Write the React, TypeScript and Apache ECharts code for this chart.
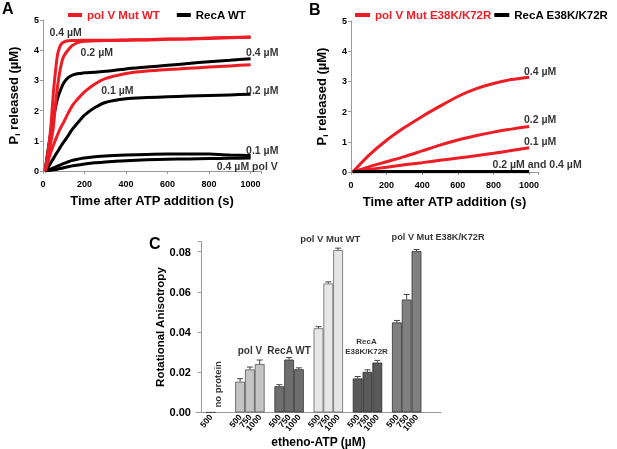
import React, { useEffect, useRef } from 'react';
import * as echarts from 'echarts';

const FONT = '"Liberation Sans", Arial, Helvetica, sans-serif';
const RED = '#ee1c24';
const AXIS_GRAY = '#9a9a9a';

// ---------- Panel A (time in s, Pi released in µM) ----------
const timeA = [10, 20, 30, 40, 50, 60, 70, 80, 90, 100, 120, 140, 160, 180, 200, 250, 300, 400, 500, 600, 700, 800, 900, 1000];
const aPolVMut04 = [0, 0.45, 0.95, 1.65, 2.6, 3.3, 3.85, 4.1, 4.22, 4.27, 4.31, 4.32, 4.32, 4.33, 4.33, 4.33, 4.33, 4.34, 4.35, 4.37, 4.38, 4.4, 4.42, 4.44];
const aPolVMut02 = [0, 0.3, 0.65, 1.05, 1.45, 2.2, 2.8, 3.25, 3.6, 3.8, 4.0, 4.15, 4.23, 4.28, 4.3, 4.31, 4.32, 4.33, 4.34, 4.36, 4.37, 4.39, 4.41, 4.43];
const aPolVMut01 = [0, 0.2, 0.45, 0.67, 0.85, 1.03, 1.2, 1.36, 1.5, 1.62, 1.9, 2.15, 2.33, 2.48, 2.62, 2.88, 3.06, 3.23, 3.31, 3.36, 3.4, 3.44, 3.48, 3.52];
const aRecA04 = [0, 0.5, 0.95, 1.35, 1.75, 2.1, 2.4, 2.6, 2.78, 2.92, 3.08, 3.17, 3.21, 3.23, 3.25, 3.27, 3.3, 3.38, 3.44, 3.5, 3.56, 3.62, 3.67, 3.72];
const aRecA02 = [0, 0.08, 0.18, 0.3, 0.41, 0.53, 0.64, 0.75, 0.86, 0.96, 1.16, 1.37, 1.54, 1.7, 1.85, 2.1, 2.27, 2.39, 2.43, 2.46, 2.48, 2.5, 2.52, 2.54];
const aRecA01 = [0, 0.02, 0.04, 0.07, 0.1, 0.13, 0.16, 0.19, 0.22, 0.25, 0.3, 0.35, 0.38, 0.41, 0.43, 0.47, 0.5, 0.53, 0.55, 0.56, 0.56, 0.56, 0.53, 0.51];
const aPolV04 = [0, 0.01, 0.02, 0.03, 0.04, 0.05, 0.06, 0.08, 0.09, 0.11, 0.14, 0.17, 0.19, 0.21, 0.23, 0.27, 0.3, 0.34, 0.37, 0.39, 0.4, 0.41, 0.42, 0.43];
const aLabels: [number, number, string][] = [
  [109, 4.6, '0.4 µM'],
  [259, 3.94, '0.2 µM'],
  [1056, 3.94, '0.4 µM'],
  [358, 2.68, '0.1 µM'],
  [1056, 2.68, '0.2 µM'],
  [1056, 0.7, '0.1 µM'],
  [984, 0.17, '0.4 µM pol V'],
];

// ---------- Panel B ----------
const timeB = [10, 100, 200, 300, 400, 500, 600, 700, 800, 900, 1000];
const bPolVMutE04 = [0, 0.55, 1.05, 1.47, 1.84, 2.18, 2.5, 2.75, 2.93, 3.06, 3.14];
const bPolVMutE02 = [0, 0.17, 0.34, 0.51, 0.7, 0.89, 1.06, 1.2, 1.32, 1.42, 1.51];
const bPolVMutE01 = [0, 0.08, 0.16, 0.24, 0.31, 0.39, 0.46, 0.54, 0.62, 0.71, 0.8];
const bRecAE02 = [0.01, 0.01, 0.01, 0.01, 0.01, 0.01, 0.01, 0.01, 0.01, 0.01, 0.01];
const bRecAE04 = [0.02, 0.02, 0.02, 0.02, 0.02, 0.02, 0.02, 0.02, 0.02, 0.02, 0.02];
const bLabels: [number, number, string][] = [
  [1062, 3.35, '0.4 µM'],
  [1062, 1.74, '0.2 µM'],
  [1062, 1.04, '0.1 µM'],
  [1045, 0.26, '0.2 µM and 0.4 µM'],
];

// ---------- Panel C (rotational anisotropy) ----------
const cConc = ['500', '750', '1000'];
const cNoProtein = [0];
const cPolV = [0.0153, 0.0214, 0.0241];
const cPolVErr = [0.0015, 0.0012, 0.002];
const cRecAWT = [0.013, 0.0263, 0.0215];
const cRecAWTErr = [0.0008, 0.001, 0.0007];
const cPolVMutWT = [0.0419, 0.0642, 0.0808];
const cPolVMutWTErr = [0.0008, 0.0008, 0.001];
const cRecAE = [0.0169, 0.0202, 0.0248];
const cRecAEErr = [0.001, 0.001, 0.0011];
const cPolVMutE = [0.0448, 0.0562, 0.0803];
const cPolVMutEErr = [0.001, 0.0025, 0.0008];
const cLabels: [number, number, string, number, number][] = [
  // slot position, value, text, font size, rotation
  [1.7, 0.014, 'no protein', 9.5, 90],
  [5, 0.0308, 'pol V', 10, 0],
  [9, 0.0308, 'RecA WT', 10, 0],
  [16.9, 0.0326, 'RecA\nE38K/K72R', 8, 0],
  [13.2, 0.0868, 'pol V Mut WT', 9.5, 0],
  [24.2, 0.0873, 'pol V Mut E38K/K72R', 9.2, 0],
];

type Group = { key: string; start: number; values: number[]; errs: number[]; color: string; border: string };
const SLOTS = 25;
const cGroups: Group[] = [
  { key: 'np', start: 1, values: cNoProtein, errs: [0], color: '#cccccc', border: '#444' },
  { key: 'polV', start: 4, values: cPolV, errs: cPolVErr, color: '#c4c4c4', border: '#555' },
  { key: 'recaWT', start: 8, values: cRecAWT, errs: cRecAWTErr, color: '#6e6e6e', border: '#333' },
  { key: 'mutWT', start: 12, values: cPolVMutWT, errs: cPolVMutWTErr, color: '#e6e6e6', border: '#666' },
  { key: 'recaE', start: 16, values: cRecAE, errs: cRecAEErr, color: '#5a5a5a', border: '#2a2a2a' },
  { key: 'mutE', start: 20, values: cPolVMutE, errs: cPolVMutEErr, color: '#808080', border: '#333' },
];

function buildC() {
  const cats: string[] = [];
  const bars: any[] = [];
  const errs: number[][] = [];
  for (let i = 0; i < SLOTS; i++) {
    cats.push('gap' + i);
    bars.push('-');
  }
  cGroups.forEach((g) => {
    g.values.forEach((v, j) => {
      const idx = g.start + j;
      cats[idx] = g.key + '|' + cConc[j];
      bars[idx] = { value: v, itemStyle: { color: g.color, borderColor: g.border } };
      if (g.errs[j] > 0) errs.push([idx, v, g.errs[j]]);
    });
  });
  return { cats, bars, errs };
}

const pairs = (t: number[], v: number[]) => t.map((x, i) => [x, v[i]]);

export default function App() {
  const ref = useRef<HTMLDivElement>(null);
  useEffect(() => {
    if (!ref.current) return;
    const chart = echarts.init(ref.current, undefined, { renderer: 'svg' });
    const { cats, bars, errs } = buildC();

    const tickLabel = { fontSize: 9, fontWeight: 'bold' as const, color: '#000', fontFamily: FONT };
    const axisLine = { show: true, lineStyle: { color: AXIS_GRAY, width: 1 } };
    const axisTick = { show: true, length: 3, lineStyle: { color: AXIS_GRAY } };
    const nameStyle = {
      fontSize: 13,
      fontWeight: 'bold' as const,
      color: '#000',
      fontFamily: FONT,
      rich: { sub: { fontSize: 8, fontWeight: 'bold' as const, fontFamily: FONT, color: '#000', verticalAlign: 'bottom' as const, lineHeight: 16 } },
    };
    const timeAxis = (gridIndex: number) => ({
      type: 'value',
      gridIndex,
      min: 0,
      max: 1050,
      interval: 200,
      axisLine,
      axisTick,
      splitLine: { show: false },
      axisLabel: { ...tickLabel, margin: 8, formatter: (v: number) => (v % 200 === 0 ? String(v) : '') },
      name: 'Time after ATP addition (s)',
      nameLocation: 'middle',
      nameGap: 23,
      nameTextStyle: nameStyle,
    });
    const piAxis = (gridIndex: number) => ({
      type: 'value',
      gridIndex,
      min: 0,
      max: 5,
      interval: 1,
      axisLine,
      axisTick,
      splitLine: { show: false },
      axisLabel: { ...tickLabel, margin: 4 },
      name: 'P{sub|i} released (µM)',
      nameLocation: 'middle',
      nameGap: 22,
      nameTextStyle: nameStyle,
    });

    const line = (name: string, color: string, t: number[], v: number[], axis: number) => ({
      type: 'line',
      name,
      xAxisIndex: axis,
      yAxisIndex: axis,
      data: pairs(t, v),
      showSymbol: false,
      smooth: 0.25,
      lineStyle: { color, width: 3 },
      itemStyle: { color },
      silent: true,
    });

    const labelSeries = (axisX: number, axisY: number, data: any[], fontSize: number) => ({
      type: 'scatter',
      xAxisIndex: axisX,
      yAxisIndex: axisY,
      symbolSize: 1,
      itemStyle: { color: 'rgba(0,0,0,0)' },
      clip: false,
      silent: true,
      data: data.map((d) => ({
        value: [d[0], d[1]],
        label: {
          show: true,
          position: 'inside',
          formatter: d[2],
          fontSize: d[3] ?? fontSize,
          rotate: d[4] ?? 0,
          fontWeight: 'bold',
          fontFamily: FONT,
          color: '#000',
          lineHeight: 10,
        },
      })),
    });

    const legendText = { fontSize: 11.5, fontWeight: 'bold', fontFamily: FONT, color: '#000' };

    const option: any = {
      animation: false,
      textStyle: { fontFamily: FONT },
      grid: [
        { left: 43, top: 20, width: 218, height: 151 },
        { left: 351, top: 21, width: 187, height: 151 },
        { left: 196, top: 241.7, width: 245, height: 171.6 },
      ],
      legend: [
        {
          data: [{ name: 'pol V Mut WT', textStyle: { color: RED } }, { name: 'RecA WT' }],
          left: 68,
          top: 9,
          width: 300,
          icon: 'rect',
          itemWidth: 14,
          itemHeight: 4,
          itemGap: 17,
          selectedMode: false,
          padding: 0,
          textStyle: legendText,
        },
        {
          data: [{ name: 'pol V Mut E38K/K72R', textStyle: { color: RED } }, { name: 'RecA E38K/K72R' }],
          left: 355,
          top: 9,
          width: 400,
          icon: 'rect',
          itemWidth: 15,
          itemHeight: 4,
          itemGap: 3,
          selectedMode: false,
          padding: 0,
          textStyle: legendText,
        },
      ],
      xAxis: [
        timeAxis(0),
        timeAxis(1),
        {
          type: 'category',
          gridIndex: 2,
          data: cats,
          axisLine,
          axisTick: { show: false },
          axisLabel: {
            interval: 0,
            rotate: 50,
            margin: 3,
            fontSize: 8.5,
            fontWeight: 'bold',
            color: '#000',
            fontFamily: FONT,
            formatter: (v: string) => (v.indexOf('|') >= 0 ? v.split('|')[1] : ''),
          },
          name: 'etheno-ATP (µM)',
          nameLocation: 'middle',
          nameGap: 23,
          nameTextStyle: { fontSize: 12, fontWeight: 'bold', color: '#000', fontFamily: FONT },
        },
        { type: 'value', gridIndex: 2, min: -0.5, max: SLOTS - 0.5, show: false },
      ],
      yAxis: [
        piAxis(0),
        piAxis(1),
        {
          type: 'value',
          gridIndex: 2,
          min: 0,
          max: 0.085,
          interval: 0.02,
          axisLine,
          axisTick,
          splitLine: { show: false },
          axisLabel: {
            fontSize: 11,
            fontWeight: 'bold',
            color: '#000',
            fontFamily: FONT,
            margin: 5,
            formatter: (v: number) => {
              const k = v / 0.02;
              return Math.abs(k - Math.round(k)) < 1e-6 ? v.toFixed(2) : '';
            },
          },
          name: 'Rotational Anisotropy',
          nameLocation: 'middle',
          nameGap: 23,
          nameTextStyle: { fontSize: 11.5, fontWeight: 'bold', color: '#000', fontFamily: FONT },
        },
      ],
      graphic: [
        { type: 'text', left: 2, top: 0, style: { text: 'A', fontSize: 16, fontWeight: 'bold', fontFamily: FONT, fill: '#000' } },
        { type: 'text', left: 309, top: 1, style: { text: 'B', fontSize: 16, fontWeight: 'bold', fontFamily: FONT, fill: '#000' } },
        { type: 'text', left: 149, top: 235, style: { text: 'C', fontSize: 16, fontWeight: 'bold', fontFamily: FONT, fill: '#000' } },
      ],
      series: [
        line('RecA WT', '#000', timeA, aPolV04, 0),
        line('RecA WT', '#000', timeA, aRecA01, 0),
        line('RecA WT', '#000', timeA, aRecA02, 0),
        line('RecA WT', '#000', timeA, aRecA04, 0),
        line('pol V Mut WT', RED, timeA, aPolVMut01, 0),
        line('pol V Mut WT', RED, timeA, aPolVMut02, 0),
        line('pol V Mut WT', RED, timeA, aPolVMut04, 0),
        line('pol V Mut E38K/K72R', RED, timeB, bPolVMutE01, 1),
        line('pol V Mut E38K/K72R', RED, timeB, bPolVMutE02, 1),
        line('pol V Mut E38K/K72R', RED, timeB, bPolVMutE04, 1),
        line('RecA E38K/K72R', '#000', timeB, bRecAE02, 1),
        line('RecA E38K/K72R', '#000', timeB, bRecAE04, 1),
        labelSeries(0, 0, aLabels, 10.5),
        labelSeries(1, 1, bLabels, 10.5),
        {
          type: 'bar',
          xAxisIndex: 2,
          yAxisIndex: 2,
          data: bars,
          barCategoryGap: '0%',
          itemStyle: { borderWidth: 0.8 },
          silent: true,
        },
        {
          type: 'custom',
          xAxisIndex: 2,
          yAxisIndex: 2,
          data: errs,
          encode: { x: 0, y: 1 },
          silent: true,
          z: 5,
          renderItem: (params: any, api: any) => {
            const x = api.value(0);
            const y = api.value(1);
            const e = api.value(2);
            const base = api.coord([x, y]);
            const top = api.coord([x, y + e]);
            const style = { stroke: '#444', lineWidth: 1 };
            return {
              type: 'group',
              children: [
                { type: 'line', shape: { x1: base[0], y1: base[1], x2: top[0], y2: top[1] }, style },
                { type: 'line', shape: { x1: top[0] - 3, y1: top[1], x2: top[0] + 3, y2: top[1] }, style },
              ],
            };
          },
        },
        labelSeries(3, 2, cLabels, 10),
      ],
    };
    chart.setOption(option);
    return () => chart.dispose();
  }, []);
  return <div ref={ref} style={{ position: 'fixed', left: 0, top: 0, width: 617, height: 449 }} />;
}
